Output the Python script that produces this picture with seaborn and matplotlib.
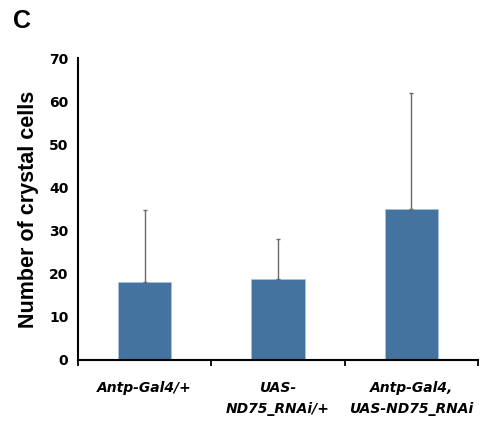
import matplotlib
matplotlib.use("Agg")
import matplotlib.pyplot as plt
import seaborn as sns
import pandas as pd
import numpy as np

categories = ["Antp-Gal4/+", "UAS-\nND75_RNAi/+", "Antp-Gal4,\nUAS-ND75_RNAi"]
means = [18, 18.8, 35]
errors = [16.8, 9.2, 27]
yticks = [0, 10, 20, 30, 40, 50, 60, 70]

sns.set_style("white")
plt.rcParams['font.family'] = ['Liberation Sans', 'DejaVu Sans']
plt.rcParams['text.color'] = 'black'
plt.rcParams['axes.labelcolor'] = 'black'
plt.rcParams['xtick.color'] = 'black'
plt.rcParams['ytick.color'] = 'black'

df = pd.DataFrame({"genotype": categories, "cells": means})

fig = plt.figure(figsize=(4.82, 4.21), dpi=100)
ax = fig.add_axes([0.162, 0.145, 0.830, 0.717])

sns.barplot(data=df, x="genotype", y="cells", ax=ax, color="#45739F",
            width=0.4, saturation=1, edgecolor="#A9C2DC", linewidth=0.6, errorbar=None)

x = np.arange(len(categories))
ax.errorbar(x, means, yerr=[np.zeros(len(errors)), errors], fmt="none",
            ecolor="#6a6a6a", elinewidth=1.0, capsize=1.5, capthick=1.0, zorder=1)

ax.set_xlim(-0.5, 2.5)
ax.set_ylim(0, 70)
ax.set_yticks(yticks)
ax.set_yticklabels([str(v) for v in yticks], fontsize=10, fontweight="bold",
                   family="DejaVu Sans")
ax.set_xticks(x)
ax.set_xticklabels(categories, fontsize=10, fontweight="bold", style="italic",
                   family="DejaVu Sans", linespacing=1.7)
ax.set_xticks([-0.5, 0.5, 1.5, 2.5], minor=True)
ax.tick_params(axis="x", which="major", length=0, pad=15)
ax.tick_params(axis="x", which="minor", length=4, width=1.3, direction="out", color="black")
ax.tick_params(axis="y", length=4, width=1.3, direction="out", color="black", pad=3)
ax.xaxis.set_tick_params(which="minor", bottom=True)

for side in ["top", "right"]:
    ax.spines[side].set_visible(False)
for side in ["left", "bottom"]:
    ax.spines[side].set_linewidth(1.5)
    ax.spines[side].set_color("black")

ax.set_xlabel("")
ax.set_ylabel("Number of crystal cells", fontsize=15.5, fontweight="bold", labelpad=7)

fig.text(0.027, 0.951, "C", fontsize=18, fontweight="bold", va="center", ha="left")

fig.savefig("out.png", dpi=100)
